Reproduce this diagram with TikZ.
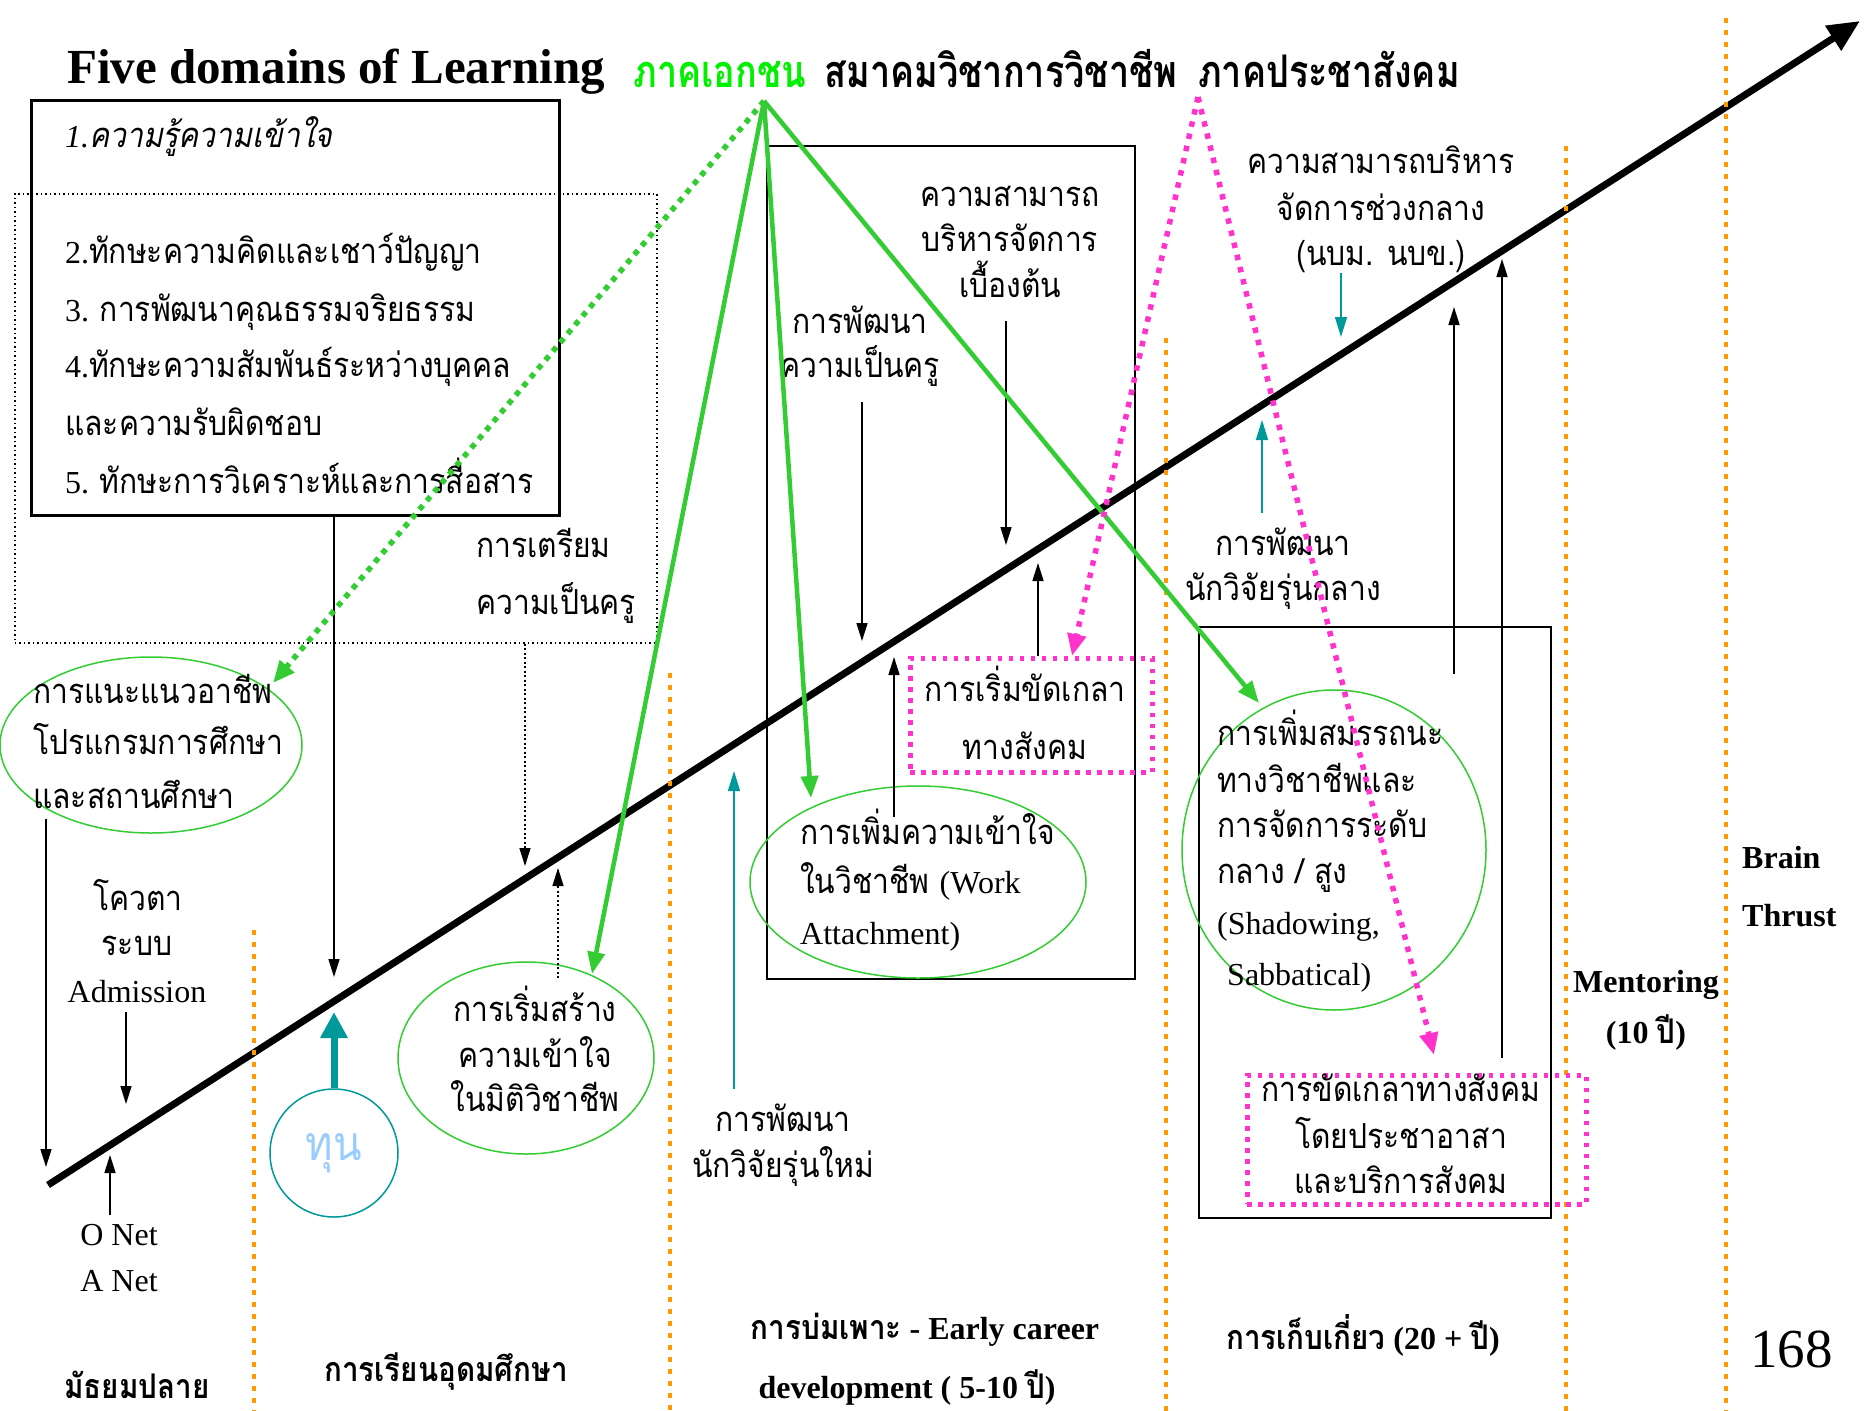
\documentclass[tikz,border=0pt]{standalone}
\usepackage{fontspec}
\setmainfont{Liberation Serif}
\newfontfamily\thai[Script=Thai,FakeStretch=0.87]{Loma}
\newfontfamily\thaiit[Script=Thai,FakeSlant=0.2,FakeStretch=0.87]{Loma}
\newfontfamily\thaih[Script=Thai,FakeStretch=0.8]{Loma}
\usetikzlibrary{arrows.meta,shapes.geometric}
\definecolor{cgreen}{HTML}{33CC33}
\definecolor{clime}{HTML}{00F000}
\definecolor{cpink}{HTML}{FF33CC}
\definecolor{corange}{HTML}{FF9900}
\definecolor{cteal}{HTML}{009999}
\definecolor{csky}{HTML}{99CCFF}
\newcommand\rmnum[1]{{\rmfamily\fontsize{32}{38}\selectfont #1}}
\newcommand\thb[1]{{\thai\fontsize{35}{40}\selectfont #1}}
\tikzset{
  T/.style={font=\thai\fontsize{34.5}{40}\selectfont, inner sep=0pt, anchor=base},
  TW/.style={T, anchor=base west},
  TB/.style={font=\thai\bfseries\fontsize{34}{40}\selectfont, inner sep=0pt, anchor=base},
  HB/.style={font=\thaih\bfseries\fontsize{45}{50}\selectfont, inner sep=0pt, anchor=base},
  L/.style={font=\rmfamily\fontsize{32}{38}\selectfont, inner sep=0pt, anchor=base},
  LB/.style={font=\rmfamily\bfseries\fontsize{32}{38}\selectfont, inner sep=0pt, anchor=base},
  thinarr/.style={draw=black, line width=1.5pt, -{Triangle[length=18pt,width=11pt]}},
  dotarr/.style={draw=black, line width=1.5pt, dash pattern=on 2pt off 2.5pt, -{Triangle[length=18pt,width=11pt]}},
  tealarr/.style={draw=cteal, line width=1.5pt, -{Triangle[length=20pt,width=12pt]}},
  greenarr/.style={draw=cgreen, line width=4.5pt, -{Triangle[length=22pt,width=17pt]}},
  greendot/.style={draw=cgreen, line width=5.5pt, dash pattern=on 5.5pt off 6pt, -{Triangle[length=22pt,width=18pt]}},
  pinkdot/.style={draw=cpink, line width=5.5pt, dash pattern=on 5.5pt off 7pt, -{Triangle[length=22pt,width=18pt]}},
  pinkbox/.style={draw=cpink, line width=4.5pt, dash pattern=on 4.5pt off 6.5pt, inner sep=0pt, anchor=north west},
  orng/.style={draw=corange, line width=4.5pt, dash pattern=on 5pt off 7pt},
  gell/.style={draw=cgreen, line width=1.5pt, ellipse, inner sep=0pt},
  sbox/.style={draw=black, line width=1.8pt, inner sep=0pt, anchor=north west},
}
\begin{document}
\begin{tikzpicture}[x=1pt,y=-1pt]
\useasboundingbox[fill=white] (0,0) rectangle (1864,1411);

% main diagonal
\coordinate (m0) at (48,1185);
\coordinate (m1) at (1860,21);
\draw[line width=7pt, -{Triangle[length=32pt,width=28pt]}] (m0) -- (m1);

% orange period separators
\draw[orng] (254,930) -- (254,1411);
\draw[orng] (670,673) -- (670,1411);
\draw[orng] (1166,338) -- (1166,1411);
\draw[orng] (1566,146) -- (1566,1411);
\draw[orng] (1726,18) -- (1726,1411);

% title and headers
\node[font=\rmfamily\bfseries\fontsize{49}{58}\selectfont, inner sep=0pt, anchor=base] (title) at (336,83) {Five domains of Learning};
\node[HB, text=clime] (pvt) at (720,87) {ภาคเอกชน};
\node[HB] (acad) at (1001,87) {สมาคมวิชาการวิชาชีพ};
\node[HB] (civ) at (1329,87) {ภาคประชาสังคม};
\coordinate (pv) at (764,101);
\coordinate (cs) at (1198,97);

% five domains box
\node[sbox, line width=2.5pt, minimum width=528, minimum height=415] (box1) at (30,99) {};
\node[draw=black, line width=1.5pt, dash pattern=on 1.5pt off 3pt, inner sep=0pt, anchor=north west, minimum width=642, minimum height=449] (dbox) at (14,193) {};
\node[TW] (d1) at (65,147) {{\rmfamily\itshape\fontsize{32}{38}\selectfont 1.}{\thaiit ความรู้ความเข้าใจ}};
\node[TW] (d2) at (65,263) {\rmnum{2.}ทักษะความคิดและเชาว์ปัญญา};
\node[TW] (d3) at (65,321) {\rmnum{3. }การพัฒนาคุณธรรมจริยธรรม};
\node[TW] (d4) at (65,377) {\rmnum{4.}ทักษะความสัมพันธ์ระหว่างบุคคล};
\node[TW] (d5) at (65,435) {และความรับผิดชอบ};
\node[TW] (d6) at (65,493) {\rmnum{5. }ทักษะการวิเคราะห์และการสื่อสาร};
\node[TW] (prep1) at (476,557) {การเตรียม};
\node[TW] (prep2) at (476,614) {ความเป็นครู};

% left ellipse
\node[gell, minimum width=302, minimum height=176] (e1) at (151,745) {};
\node[TW] (e1a) at (33,703) {การแนะแนวอาชีพ};
\node[TW] (e1b) at (33,754) {โปรแกรมการศึกษา};
\node[TW] (e1c) at (33,808) {และสถานศึกษา};

% quota / admission / O-Net
\node[T] (q1) at (138,910) {โควตา};
\node[T] (q2) at (137,955) {ระบบ};
\node[L] (q3) at (137,1002) {Admission};
\node[L] (on1) at (119,1245) {O Net};
\node[L] (on2) at (119,1291) {A Net};

% bottom labels
\node[TB] (b1) at (137,1398) {มัธยมปลาย};
\node[TB] (b2) at (446,1381) {การเรียนอุดมศึกษา};
\node[LB] (b3) at (925,1339) {{\thai\fontsize{34}{40}\selectfont การบ่มเพาะ} - Early career};
\node[LB] (b4) at (907,1398) {development ( 5-10 {\thai\fontsize{34}{40}\selectfont ปี})};
\node[LB] (b5) at (1363,1349) {{\thai\fontsize{34}{40}\selectfont การเก็บเกี่ยว} (20 + {\thai\fontsize{34}{40}\selectfont ปี})};
\node[LB] (b6) at (1646,992) {Mentoring};
\node[LB] (b7) at (1646,1043) {(10 {\thai\fontsize{34}{40}\selectfont ปี})};
\node[LB, anchor=base west] (b8) at (1742,868) {Brain};
\node[LB, anchor=base west] (b9) at (1742,926) {Thrust};
\node[font=\rmfamily\fontsize{55}{60}\selectfont, inner sep=0pt, anchor=base west] (pg) at (1750,1367) {168};

% scholarship circle
\node[draw=cteal, line width=1.5pt, circle, minimum size=128, inner sep=0pt, text=csky, font=\thai\fontsize{48}{52}\selectfont] (tun) at (334,1153) {ทุน};

% second ellipse
\node[gell, minimum width=256, minimum height=192] (e2) at (526,1058) {};
\node[T] (e2a) at (535,1021) {การเริ่มสร้าง};
\node[T] (e2b) at (535,1067) {ความเข้าใจ};
\node[T] (e2c) at (535,1111) {ในมิติวิชาชีพ};

% box 2
\node[sbox, minimum width=368, minimum height=833] (box2) at (766,145) {};
\node[T] (t1) at (860,333) {การพัฒนา};
\node[T] (t2) at (860,377) {ความเป็นครู};
\node[T] (m1a) at (1010,206) {ความสามารถ};
\node[T] (m1b) at (1010,251) {บริหารจัดการ};
\node[T] (m1c) at (1010,297) {เบื้องต้น};
\node[gell, minimum width=336, minimum height=192] (e3) at (918,882) {};
\node[TW] (e3a) at (800,844) {การเพิ่มความเข้าใจ};
\node[TW] (e3b) at (800,893) {ในวิชาชีพ \rmnum{(Work}};
\node[L, anchor=base west] (e3c) at (800,944) {Attachment)};
\node[pinkbox, minimum width=242, minimum height=114] (pb1) at (908,656) {};
\node[T] (pb1a) at (1025,701) {การเริ่มขัดเกลา};
\node[T] (pb1b) at (1025,759) {ทางสังคม};

% young researcher
\node[T] (r1) at (783,1131) {การพัฒนา};
\node[T] (r2) at (783,1177) {นักวิจัยรุ่นใหม่};

% mid management
\node[T] (mm1) at (1381,173) {ความสามารถบริหาร};
\node[T] (mm2) at (1381,220) {จัดการช่วงกลาง};
\node[T] (mm3) at (1381,265) {(นบม. นบข.)};
\node[T] (rm1) at (1283,555) {การพัฒนา};
\node[T] (rm2) at (1283,600) {นักวิจัยรุ่นกลาง};

% box 3
\node[sbox, minimum width=352, minimum height=591] (box3) at (1198,626) {};
\node[gell, minimum width=304, minimum height=320] (e4) at (1334,850) {};
\node[TW] (e4a) at (1217,745) {การเพิ่มสมรรถนะ};
\node[TW] (e4b) at (1217,792) {ทางวิชาชีพและ};
\node[TW] (e4c) at (1217,837) {การจัดการระดับ};
\node[TW] (e4d) at (1217,883) {กลาง / สูง};
\node[L, anchor=base west] (e4e) at (1217,934) {(Shadowing,};
\node[L, anchor=base west] (e4f) at (1227,985) {Sabbatical)};
\node[pinkbox, minimum width=339, minimum height=129] (pb2) at (1245,1073) {};
\node[T] (pb2a) at (1401,1101) {การขัดเกลาทางสังคม};
\node[T] (pb2b) at (1401,1148) {โดยประชาอาสา};
\node[T] (pb2c) at (1401,1193) {และบริการสังคม};

% arrow end points
\coordinate (a1e) at (334,977);
\coordinate (a2e) at (525,866);
\coordinate (a3s) at (558,978);
\coordinate (a3e) at (558,868);
\coordinate (a4s) at (46,819);
\coordinate (a4e) at (46,1167);
\coordinate (a5s) at (126,1012);
\coordinate (a5e) at (126,1104);
\coordinate (a6s) at (110,1215);
\coordinate (a6e) at (110,1155);
\coordinate (tune) at (334,1012);
\coordinate (a7s) at (862,402);
\coordinate (a7e) at (862,641);
\coordinate (a8s) at (1006,321);
\coordinate (a8e) at (1006,545);
\coordinate (a9s) at (894,817);
\coordinate (a9e) at (894,657);
\coordinate (a10e) at (1038,563);
\coordinate (a11s) at (734,1089);
\coordinate (a11e) at (734,771);
\coordinate (a12s) at (1341,273);
\coordinate (a12e) at (1341,337);
\coordinate (a13s) at (1262,513);
\coordinate (a13e) at (1262,420);
\coordinate (a14s) at (1454,674);
\coordinate (a14e) at (1454,307);
\coordinate (a15s) at (1502,1058);
\coordinate (a15e) at (1502,259);
\coordinate (g0e) at (273,683);
\coordinate (g1e) at (592,974);
\coordinate (g2e) at (811,798);
\coordinate (g3e) at (1259,703);
\coordinate (p1e) at (1072,656);
\coordinate (p2e) at (1434,1055);

% black arrows
\draw[thinarr] (a1e |- box1.south) -- (a1e);
\draw[dotarr] (a2e |- dbox.south) -- (a2e);
\draw[dotarr] (a3s) -- (a3e);
\draw[thinarr] (a4s) -- (a4e);
\draw[thinarr] (a5s) -- (a5e);
\draw[thinarr] (a6s) -- (a6e);
\draw[thinarr] (a7s) -- (a7e);
\draw[thinarr] (a8s) -- (a8e);
\draw[thinarr] (a9s) -- (a9e);
\draw[thinarr] (a10e |- pb1.north) -- (a10e);
\draw[thinarr] (a14s) -- (a14e);
\draw[thinarr] (a15s) -- (a15e);

% teal arrows
\draw[draw=cteal, line width=7pt, -{Triangle[length=26pt,width=26pt]}] (tun.north) -- (tune);
\draw[tealarr] (a11s) -- (a11e);
\draw[tealarr] (a12s) -- (a12e);
\draw[tealarr] (a13s) -- (a13e);

% green arrows from private sector
\draw[greendot] (pv) -- (g0e);
\draw[greenarr] (pv) -- (g1e);
\draw[greenarr] (pv) -- (g2e);
\draw[greenarr] (pv) -- (g3e);

% pink arrows from civil society
\draw[pinkdot] (cs) -- (p1e);
\draw[pinkdot] (cs) -- (p2e);
\end{tikzpicture}
\end{document}
